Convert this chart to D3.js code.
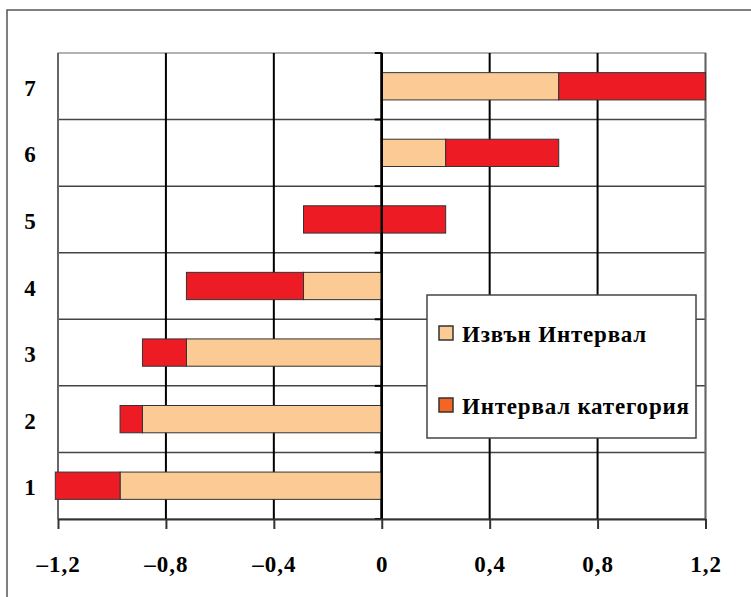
<!DOCTYPE html>
<html>
<head>
<meta charset="utf-8">
<script src="https://cdn.jsdelivr.net/npm/d3@7"></script>
<style>
  body { margin: 0; background: #fff; }
</style>
</head>
<body>
<div id="viz"></div>
<script>
(function () {
  'use strict';

  // categories, bottom to top
  var categories = ['1', '2', '3', '4', '5', '6', '7'];
  // "Извън Интервал" - runs from 0 out to this value
  var outside = [-0.97, -0.887, -0.724, -0.29, 0, 0.237, 0.656];
  // "Интервал категория" - start and end of each interval
  var intervalFrom = [-0.97, -0.887, -0.724, -0.29, -0.29, 0.237, 0.656];
  var intervalTo = [-1.21, -0.97, -0.887, -0.724, 0.237, 0.656, 1.2];
  var xTicks = [-1.2, -0.8, -0.4, 0, 0.4, 0.8, 1.2];
  var seriesNames = ['Извън Интервал', 'Интервал категория'];

  var FONT = '"Liberation Serif", "Times New Roman", "DejaVu Serif", serif';
  var W = 751, H = 597;
  var left = 58, right = 705.5, top = 53, bottom = 519;

  var svg = d3.select('#viz').append('svg')
    .attr('width', W)
    .attr('height', H)
    .attr('font-family', FONT)
    .attr('font-weight', 'bold');

  // chart area frame (only top and left show in the window)
  svg.append('path')
    .attr('d', 'M7,' + (H + 5) + 'V10H' + (W + 5))
    .attr('fill', 'none')
    .attr('stroke', '#555')
    .attr('stroke-width', 1.5);

  var x = d3.scaleLinear().domain([-1.2, 1.2]).range([left, right]);
  var y = d3.scaleBand().domain(categories.slice().reverse()).range([top, bottom]).padding(0);
  var bh = y.bandwidth() * 0.41;

  // plot frame
  svg.append('rect')
    .attr('x', left).attr('y', top)
    .attr('width', right - left).attr('height', bottom - top)
    .attr('fill', 'none')
    .attr('stroke', '#999')
    .attr('stroke-width', 1.5);

  // horizontal grid at category borders
  var borders = categories.slice(0, -1).map(function (c) { return y(c); });
  svg.selectAll('.hgrid').data(borders).enter().append('line')
    .attr('x1', left).attr('x2', right)
    .attr('y1', function (d) { return d; })
    .attr('y2', function (d) { return d; })
    .attr('stroke', '#444')
    .attr('stroke-width', 1.5);

  // vertical grid
  svg.selectAll('.vgrid').data(xTicks).enter().append('line')
    .attr('x1', function (d) { return x(d); })
    .attr('x2', function (d) { return x(d); })
    .attr('y1', top).attr('y2', bottom)
    .attr('stroke', function (d) { return Math.abs(d) === 1.2 ? '#666' : '#000'; })
    .attr('stroke-width', function (d) { return d === 0 ? 2.5 : 2; });

  // bars
  var rows = categories.map(function (c, i) {
    return { cat: c, out: outside[i], a: intervalFrom[i], b: intervalTo[i] };
  });

  svg.selectAll('.out').data(rows.filter(function (d) { return d.out !== 0; })).enter().append('rect')
    .attr('x', function (d) { return x(Math.min(0, d.out)); })
    .attr('width', function (d) { return Math.abs(x(d.out) - x(0)); })
    .attr('y', function (d) { return y(d.cat) + (y.bandwidth() - bh) / 2; })
    .attr('height', bh)
    .attr('fill', '#FCCA94')
    .attr('stroke', '#333')
    .attr('stroke-width', 1);

  svg.selectAll('.int').data(rows).enter().append('rect')
    .attr('x', function (d) { return x(Math.min(d.a, d.b)); })
    .attr('width', function (d) { return Math.abs(x(d.b) - x(d.a)); })
    .attr('y', function (d) { return y(d.cat) + (y.bandwidth() - bh) / 2; })
    .attr('height', bh)
    .attr('fill', '#ED1C24')
    .attr('stroke', '#333')
    .attr('stroke-width', 1);

  // zero line over the bars
  svg.append('line')
    .attr('x1', x(0)).attr('x2', x(0))
    .attr('y1', top).attr('y2', bottom)
    .attr('stroke', '#000')
    .attr('stroke-width', 2.5);

  // small category ticks on the zero axis
  svg.selectAll('.ctick').data(borders.concat([top, bottom])).enter().append('line')
    .attr('x1', x(0) - 7).attr('x2', x(0))
    .attr('y1', function (d) { return d; })
    .attr('y2', function (d) { return d; })
    .attr('stroke', '#000')
    .attr('stroke-width', 2);

  // x axis
  var xAxis = d3.axisBottom(x)
    .tickValues(xTicks)
    .tickSize(10)
    .tickSizeOuter(0)
    .tickPadding(27)
    .tickFormat(function (d) { return d3.format('.1~f')(d).replace('.', ',').replace('−', '–'); });

  var gx = svg.append('g')
    .attr('transform', 'translate(0,' + bottom + ')')
    .call(xAxis)
    .attr('font-family', FONT)
    .attr('font-size', 23);
  gx.select('.domain').attr('stroke', '#333').attr('stroke-width', 2);
  gx.selectAll('.tick line').attr('stroke', '#333').attr('stroke-width', 2);
  gx.selectAll('.tick text').attr('fill', '#000').attr('letter-spacing', 1);

  // category labels
  svg.selectAll('.clabel').data(categories).enter().append('text')
    .attr('x', 30)
    .attr('y', function (d) { return y(d) + y.bandwidth() / 2 + 9.5; })
    .attr('text-anchor', 'middle')
    .attr('font-size', 23)
    .text(function (d) { return d; });

  // legend
  var lg = svg.append('g');
  lg.append('rect')
    .attr('x', 427).attr('y', 295)
    .attr('width', 269).attr('height', 143)
    .attr('fill', '#fff')
    .attr('stroke', '#444')
    .attr('stroke-width', 1.5);

  var legendColors = ['#FCCA94', '#F26522'];
  var legendY = [333, 405];
  seriesNames.forEach(function (name, i) {
    lg.append('rect')
      .attr('x', 439).attr('y', legendY[i] - 7)
      .attr('width', 14).attr('height', 14)
      .attr('fill', legendColors[i])
      .attr('stroke', '#333')
      .attr('stroke-width', 1.5);
    lg.append('text')
      .attr('x', 462).attr('y', legendY[i] + 8.5)
      .attr('font-size', 23)
      .attr('letter-spacing', 0.8)
      .text(name);
  });
})();
</script>
</body>
</html>
